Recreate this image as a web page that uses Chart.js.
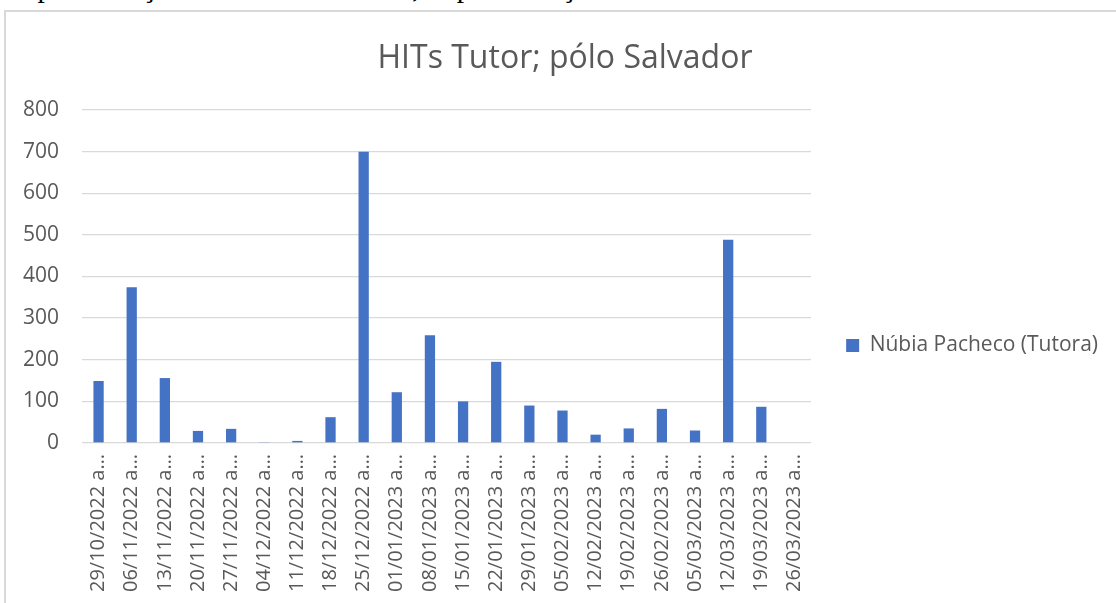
<!DOCTYPE html>
<html>
<head>
<meta charset="utf-8">
<script src="https://cdn.jsdelivr.net/npm/chart.js@4.4.1/dist/chart.umd.min.js"></script>
<style>
  html, body { margin: 0; padding: 0; background: #fff; overflow: hidden; }
  #above { position: absolute; left: 8px; top: -27px; font-family: 'Liberation Serif', 'Times New Roman', serif; font-size: 29.5px; line-height: 1; color: #000; white-space: nowrap; }
  #frame { position: absolute; left: 4px; top: 10px; border-left: 2px solid #d9d9d9; border-top: 2px solid #d9d9d9; background: #fff; }
  canvas { display: block; }
</style>
</head>
<body>
<div id="above">Especialização em Gestão Escolar; Especialização em Gestão Escolar</div>
<div id="frame"><canvas id="c" width="1110" height="591"></canvas></div>
<script>
const categories = [
  "29/10/2022 a…", "06/11/2022 a…", "13/11/2022 a…", "20/11/2022 a…", "27/11/2022 a…",
  "04/12/2022 a…", "11/12/2022 a…", "18/12/2022 a…", "25/12/2022 a…", "01/01/2023 a…",
  "08/01/2023 a…", "15/01/2023 a…", "22/01/2023 a…", "29/01/2023 a…", "05/02/2023 a…",
  "12/02/2023 a…", "19/02/2023 a…", "26/02/2023 a…", "05/03/2023 a…", "12/03/2023 a…",
  "19/03/2023 a…", "26/03/2023 a…"
];
const seriesName = "Núbia Pacheco (Tutora)";
const hits = [149, 374, 156, 29, 34, 2, 5, 62, 700, 122, 259, 100, 195, 90, 78, 20, 35, 82, 30, 488, 87, 0];
const chartTitle = "HITs Tutor; pólo Salvador";
const yMin = 0, yMax = 800, yStep = 100;

const FONT = "'Open Sans', 'Noto Sans', sans-serif";
const GREY = "#595959";
const PAD_L = 16, PAD_R = 8;
const PLOT_LEFT = 76, PLOT_RIGHT = 805, PLOT_BOTTOM = 431;
const LEGEND_SHIFT = 38;

const legendShift = {
  id: 'legendShift',
  afterLayout(chart) {
    if (chart.legend) {
      chart.legend.top += LEGEND_SHIFT;
      chart.legend.bottom += LEGEND_SHIFT;
    }
  }
};

new Chart(document.getElementById('c'), {
  type: 'bar',
  data: {
    labels: categories,
    datasets: [{
      label: seriesName,
      data: hits,
      backgroundColor: '#4472C4',
      borderWidth: 0,
      categoryPercentage: 1.0,
      barPercentage: 0.31
    }]
  },
  plugins: [legendShift],
  options: {
    responsive: false,
    devicePixelRatio: 1,
    animation: false,
    layout: { padding: { left: PAD_L, right: PAD_R, top: 0, bottom: 0 } },
    plugins: {
      title: {
        display: true,
        text: chartTitle,
        color: GREY,
        font: { family: FONT, size: 32, weight: 'normal', lineHeight: 1.2 },
        padding: { top: 28, bottom: 31.6 }
      },
      legend: {
        position: 'right',
        maxWidth: 500,
        labels: {
          color: GREY,
          font: { family: FONT, size: 21 },
          boxWidth: 13,
          boxHeight: 13,
          padding: 10
        }
      },
      tooltip: { enabled: false }
    },
    scales: {
      x: {
        grid: { display: false },
        border: { display: false },
        ticks: {
          color: GREY,
          font: { family: FONT, size: 20 },
          maxRotation: 90,
          minRotation: 90,
          autoSkip: false,
          padding: 3
        },
        afterFit: (s) => { s.height = 591 - PLOT_BOTTOM; }
      },
      y: {
        min: yMin,
        max: yMax,
        grid: { color: '#d9d9d9', lineWidth: 1.3, drawTicks: false },
        border: { display: false },
        ticks: {
          stepSize: yStep,
          color: GREY,
          font: { family: FONT, size: 21 },
          padding: 23
        },
        afterFit: (s) => { s.width = PLOT_LEFT - PAD_L; }
      },
      gap: {
        type: 'linear',
        position: 'right',
        display: true,
        grid: { display: false, drawTicks: false },
        border: { display: false },
        ticks: { display: false },
        afterFit: (s) => {
          const lw = (s.chart.legend && s.chart.legend.width) ? s.chart.legend.width : 266;
          s.width = Math.max(0, s.chart.width - PAD_R - lw - PLOT_RIGHT);
        }
      }
    }
  }
});
</script>
</body>
</html>
